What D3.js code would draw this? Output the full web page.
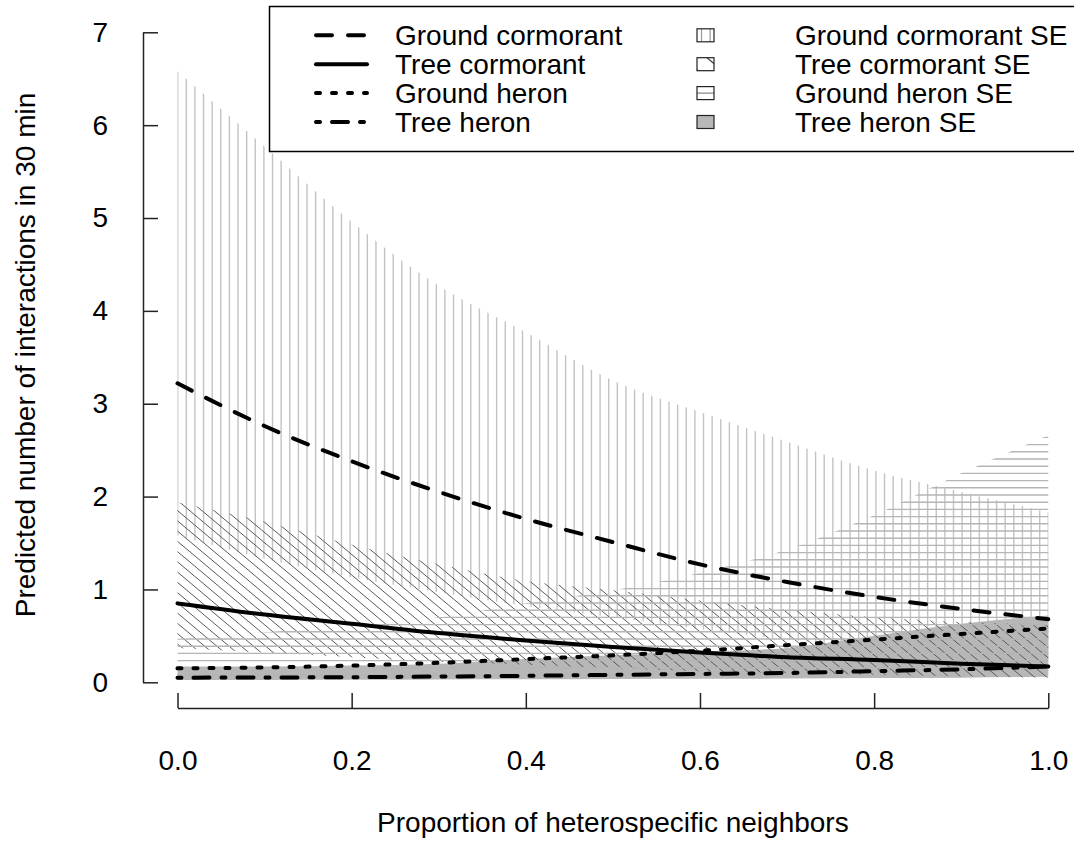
<!DOCTYPE html>
<html>
<head>
<meta charset="utf-8">
<script src="https://cdn.jsdelivr.net/npm/d3@7"></script>
<style>
  html, body { margin: 0; padding: 0; background: #fff; }
  svg { display: block; font-family: "Liberation Sans", Arial, sans-serif; }
</style>
</head>
<body>
<svg id="chart" width="1074" height="847"></svg>
<script>
// Proportion of heterospecific neighbours (x grid shared by all series)
const xs = [0, 0.1, 0.2, 0.3, 0.4, 0.5, 0.6, 0.7, 0.8, 0.9, 1.0];

// Predicted interactions per 30 min, with SE envelopes
const groundCormorant      = [3.22, 2.76, 2.38, 2.05, 1.76, 1.51, 1.27, 1.08, 0.92, 0.79, 0.68];
const groundCormorantUpper = [6.58, 5.77, 4.96, 4.27, 3.77, 3.25, 2.91, 2.59, 2.28, 2.05, 1.83];
const groundCormorantLower = [1.58, 1.33, 1.13, 0.97, 0.82, 0.70, 0.57, 0.46, 0.37, 0.30, 0.25];

const treeCormorant        = [0.85, 0.73, 0.63, 0.53, 0.45, 0.38, 0.32, 0.27, 0.24, 0.20, 0.17];
const treeCormorantUpper   = [1.94, 1.73, 1.48, 1.27, 1.09, 0.99, 0.88, 0.78, 0.70, 0.65, 0.62];
const treeCormorantLower   = [0.37, 0.32, 0.27, 0.22, 0.19, 0.15, 0.12, 0.10, 0.08, 0.065, 0.05];

const groundHeron          = [0.15, 0.16, 0.18, 0.21, 0.25, 0.29, 0.34, 0.40, 0.46, 0.52, 0.58];
const groundHeronUpper     = [0.47, 0.54, 0.61, 0.70, 0.85, 0.99, 1.18, 1.43, 1.80, 2.25, 2.66];
const groundHeronLower     = [0.048, 0.05, 0.053, 0.065, 0.08, 0.085, 0.09, 0.10, 0.12, 0.125, 0.13];

const treeHeron            = [0.05, 0.052, 0.055, 0.062, 0.07, 0.08, 0.09, 0.10, 0.12, 0.14, 0.17];
const treeHeronUpper       = [0.17, 0.17, 0.18, 0.20, 0.25, 0.29, 0.33, 0.37, 0.50, 0.63, 0.72];
const treeHeronLower       = [0.025, 0.025, 0.027, 0.03, 0.032, 0.035, 0.037, 0.04, 0.045, 0.05, 0.06];

const xTicks = [0, 0.2, 0.4, 0.6, 0.8, 1.0];
const yTicks = [0, 1, 2, 3, 4, 5, 6, 7];

const lineLabels = ["Ground cormorant", "Tree cormorant", "Ground heron", "Tree heron"];
const seLabels   = ["Ground cormorant SE", "Tree cormorant SE", "Ground heron SE", "Tree heron SE"];

const xTitle = "Proportion of heterospecific neighbors";
const yTitle = "Predicted number of interactions in 30 min";

// ---------------------------------------------------------------
const svg = d3.select("#chart");
const defs = svg.append("defs");
const FONT = 28;

const x = d3.scaleLinear().domain([0, 1]).range([177.5, 1048.3]);
const y = d3.scaleLinear().domain([0, 7]).range([682.3, 32.3]);

const curve = d3.curveMonotoneX;
const band = (upper, lower) => d3.area()
  .curve(curve)
  .x((d, i) => x(xs[i]))
  .y0((d, i) => y(lower[i]))
  .y1((d, i) => y(upper[i]))(xs);
const line = vals => d3.line()
  .curve(curve)
  .x((d, i) => x(xs[i]))
  .y((d, i) => y(vals[i]))(xs);

// Hatch line generators (device-space spacing, like base-graphics density hatching)
function verticalHatch(x0, x1, y0, y1, start, step) {
  const out = [];
  for (let v = start; v <= x1; v += step) if (v >= x0 - step) out.push([v, y0, v, y1]);
  return out;
}
function horizontalHatch(x0, x1, y0, y1, anchor, step) {
  const out = [];
  let v = anchor;
  while (v > y0) v -= step;
  for (; v <= y1; v += step) out.push([x0, v, x1, v]);
  return out;
}
function diagonalHatch(x0, x1, y0, y1, slope, anchorX, stepX) {
  // lines y = y0 + slope * (x - c) for c spaced by stepX
  const out = [];
  const cMin = x0 - (y1 - y0) / slope - stepX;
  let c = anchorX;
  while (c > cMin) c -= stepX;
  for (; c <= x1 + stepX; c += stepX) {
    out.push([c, y0, c + (y1 - y0) / slope, y1]);
  }
  return out;
}

function hatchedBand(id, pathD, segs, color, width) {
  defs.append("clipPath").attr("id", id).append("path").attr("d", pathD);
  svg.append("g").attr("clip-path", `url(#${id})`)
    .selectAll("line").data(segs).join("line")
    .attr("x1", d => d[0]).attr("y1", d => d[1])
    .attr("x2", d => d[2]).attr("y2", d => d[3])
    .attr("stroke", color).attr("stroke-width", width);
}

const VCOL = "#c3c3c3", HCOL = "#b5b5b5", DCOL = "#5a5a5a", GRAY = "#b7b7b7";
const VSTEP = 8.62, HSTEP = 7.2, DSLOPE = 0.84, DSTEP = 12.2;

// Ground cormorant SE: vertical hatching
hatchedBand("se-gc", band(groundCormorantUpper, groundCormorantLower),
  verticalHatch(170, 1055, 20, 700, 177.7, VSTEP), VCOL, 1.4);

// Tree heron SE: solid grey
svg.append("path").attr("d", band(treeHeronUpper, treeHeronLower))
  .attr("fill", GRAY).attr("stroke", "none");

// Tree cormorant SE: diagonal hatching
hatchedBand("se-tc", band(treeCormorantUpper, treeCormorantLower),
  diagonalHatch(170, 1055, 400, 700, DSLOPE, 180, DSTEP), DCOL, 1);

// Ground heron SE: horizontal hatching
hatchedBand("se-gh", band(groundHeronUpper, groundHeronLower),
  horizontalHatch(170, 1055, 400, 700, 660.6, HSTEP), HCOL, 1.4);

// Fitted lines
const LW = 4;
const styles = [
  { vals: groundCormorant, dash: "16,16" },
  { vals: treeCormorant,   dash: null },
  { vals: groundHeron,     dash: "4,12" },
  { vals: treeHeron,       dash: "4,12,16,12" }
];
styles.forEach(s => {
  svg.append("path").attr("d", line(s.vals))
    .attr("fill", "none").attr("stroke", "#000")
    .attr("stroke-width", LW).attr("stroke-linecap", "round")
    .attr("stroke-linejoin", "round")
    .attr("stroke-dasharray", s.dash);
});

// Axes (ticks point into the plot, axis lines offset from the data)
const yAxis = d3.axisLeft(y).tickValues(yTicks).tickFormat(d3.format("d"))
  .tickSizeInner(-15).tickSizeOuter(0).tickPadding(35);
const gy = svg.append("g").attr("transform", "translate(143,0)").call(yAxis);

const xAxis = d3.axisBottom(x).tickValues(xTicks).tickFormat(d3.format(".1f"))
  .tickSizeInner(-15).tickSizeOuter(0).tickPadding(42);
const gx = svg.append("g").attr("transform", "translate(0,708)").call(xAxis);

[gx, gy].forEach(g => {
  g.selectAll("path, line").attr("stroke", "#222").attr("stroke-width", 1.5);
  g.selectAll("text").attr("font-size", FONT).attr("fill", "#000")
    .attr("font-family", '"Liberation Sans", Arial, sans-serif');
});

// Axis titles
svg.append("text").attr("x", x(0.5)).attr("y", 832)
  .attr("text-anchor", "middle").attr("font-size", FONT).text(xTitle);
svg.append("text").attr("transform", "translate(35,355) rotate(-90)")
  .attr("text-anchor", "middle").attr("font-size", FONT).text(yTitle);

// Legend
const lg = svg.append("g");
lg.append("rect").attr("x", 269.5).attr("y", 6.5).attr("width", 900).attr("height", 145)
  .attr("fill", "#fff").attr("stroke", "#000").attr("stroke-width", 1.5);

const rowBase = [45.3, 74.2, 103.1, 132];
lineLabels.forEach((lab, i) => {
  const cy = rowBase[i] - 10;
  lg.append("line").attr("x1", 316).attr("x2", 367).attr("y1", cy).attr("y2", cy)
    .attr("stroke", "#000").attr("stroke-width", LW).attr("stroke-linecap", "round")
    .attr("stroke-dasharray", styles[i].dash);
  lg.append("text").attr("x", 395).attr("y", rowBase[i]).attr("font-size", FONT).text(lab);
});

const SW = 17, SH = 13, SX = 697;
seLabels.forEach((lab, i) => {
  const cy = rowBase[i] - 10;
  const top = cy - SH / 2;
  const clipId = "sw" + i;
  defs.append("clipPath").attr("id", clipId).append("rect")
    .attr("x", SX).attr("y", top).attr("width", SW).attr("height", SH);
  const sg = lg.append("g");
  if (i === 3) {
    sg.append("rect").attr("x", SX).attr("y", top).attr("width", SW).attr("height", SH).attr("fill", GRAY);
  } else {
    let segs, col;
    if (i === 0) { segs = verticalHatch(SX - 10, SX + SW + 10, top - 5, top + SH + 5, SX + 4.5, VSTEP); col = "#999"; }
    if (i === 1) { segs = diagonalHatch(SX - 20, SX + SW + 20, top - 5, top + SH + 5, DSLOPE, SX + 4, DSTEP * 2); col = "#444"; }
    if (i === 2) { segs = horizontalHatch(SX - 5, SX + SW + 5, top - 5, top + SH + 5, top + SH / 2, HSTEP * 2); col = "#888"; }
    sg.append("g").attr("clip-path", `url(#${clipId})`)
      .selectAll("line").data(segs).join("line")
      .attr("x1", d => d[0]).attr("y1", d => d[1]).attr("x2", d => d[2]).attr("y2", d => d[3])
      .attr("stroke", col).attr("stroke-width", 1.2);
  }
  sg.append("rect").attr("x", SX).attr("y", top).attr("width", SW).attr("height", SH)
    .attr("fill", "none").attr("stroke", "#222").attr("stroke-width", 1.2);
  lg.append("text").attr("x", 795).attr("y", rowBase[i]).attr("font-size", FONT).text(lab);
});
</script>
</body>
</html>
